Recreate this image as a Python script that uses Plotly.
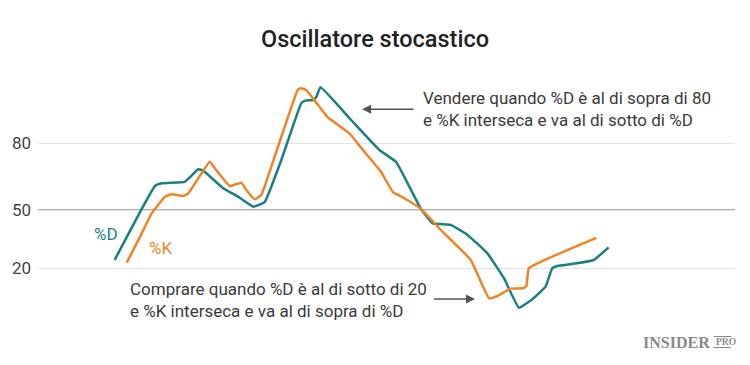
import plotly.graph_objects as go

# ---- data (x: time scale 0-100, y: oscillator value) ----
d_x = [11.0, 16.78, 17.74, 21.07, 21.65, 22.99, 23.71, 26.57, 28.71, 30.86, 32.52, 34.91,
       37.77, 38.34, 39.44, 39.91, 40.53, 44.92, 48.97, 51.36, 52.79, 54.94, 56.61, 59.23,
       61.62, 64.48, 66.85, 69.0, 70.92, 72.82, 73.78, 74.49, 77.35, 79.73, 81.87]
d_y = [27.5, 60.8, 62.0, 62.7, 64.3, 68.3, 67.7, 59.8, 56.0, 51.5, 53.5, 72.5,
       98.0, 99.2, 99.5, 100.7, 105.2, 90.5, 77.0, 71.7, 63.5, 50.5, 44.0, 43.3,
       38.8, 30.5, 19.3, 6.0, 9.8, 15.5, 23.8, 24.8, 26.0, 27.5, 33.2]

k_x = [12.73, 14.88, 16.31, 18.21, 19.17, 20.84, 21.56, 24.65, 25.36, 27.51, 29.18, 29.9,
       31.09, 32.05, 34.19, 37.3, 37.77, 38.48, 41.59, 44.68, 46.82, 49.21, 50.89, 52.55,
       54.94, 57.8, 62.09, 64.71, 65.91, 67.81, 69.71, 70.1, 70.43, 80.11]
k_y = [26.3, 39.5, 48.5, 56.0, 57.1, 56.3, 57.5, 71.7, 68.8, 60.8, 62.3, 59.0,
       54.8, 56.8, 76.2, 104.3, 104.8, 104.0, 91.7, 84.5, 76.2, 67.2, 58.2, 55.3,
       50.5, 41.0, 27.5, 10.3, 11.3, 14.6, 14.8, 16.2, 23.8, 37.5]

tick_vals = [23.75, 50, 80]
tick_text = ["20", "50", "80"]

title = "Oscillatore stocastico"
sell_text = "Vendere quando %D è al di sopra di 80<br>e %K interseca e va al di sotto di %D"
buy_text = "Comprare quando %D è al di sotto di 20<br>e %K interseca e va al di sopra di %D"

TEAL = "#1a7f80"
ORANGE = "#ef8326"
FONT = "Roboto"

W, H = 750, 365
L, R, T, B = 36, 15, 60, 35
pw, ph = W - L - R, H - T - B

fig = go.Figure()
fig.add_trace(go.Scatter(x=d_x, y=d_y, mode="lines", name="%D",
                         line=dict(color=TEAL, width=2.5, shape="spline", smoothing=0.3)))
fig.add_trace(go.Scatter(x=k_x, y=k_y, mode="lines", name="%K",
                         line=dict(color=ORANGE, width=2.5, shape="spline", smoothing=0.3)))

# middle (50) reference line, darker
fig.add_shape(type="line", xref="paper", yref="y", x0=0, x1=1, y0=50, y1=50,
              line=dict(color="#b0b0b0", width=2), layer="below")

annotations = [
    dict(text=sell_text, x=55.0, y=95.3, xref="x", yref="y", xanchor="left", yanchor="middle",
         align="left", showarrow=False, font=dict(family=FONT, size=17, color="#3a3a3a")),
    dict(text=buy_text, x=12.85, y=9.5, xref="x", yref="y", xanchor="left", yanchor="middle",
         align="left", showarrow=False, font=dict(family=FONT, size=17, color="#3a3a3a")),
    # arrows
    dict(x=46.5, y=95.3, ax=54.1, ay=95.3, xref="x", yref="y", axref="x", ayref="y",
         text="", showarrow=True, arrowhead=2, arrowsize=1.2, arrowwidth=1.5, arrowcolor="#555555"),
    dict(x=62.7, y=10.0, ax=56.6, ay=10.0, xref="x", yref="y", axref="x", ayref="y",
         text="", showarrow=True, arrowhead=2, arrowsize=1.2, arrowwidth=1.5, arrowcolor="#555555"),
    # series labels
    dict(text="%D", x=9.7, y=39.3, xref="x", yref="y", showarrow=False,
         font=dict(family=FONT, size=17, color=TEAL)),
    dict(text="%K", x=17.6, y=33.0, xref="x", yref="y", showarrow=False,
         font=dict(family=FONT, size=17, color=ORANGE)),
    # logo
    dict(text="<b>INSIDER</b>", x=712, y=342, xref="paper", yref="paper", showarrow=False,
         xanchor="right", yanchor="middle",
         font=dict(family="Liberation Serif", size=16, color="#8a8a8a")),
    dict(text="<b>PRO</b>", x=713.5, y=342, xref="paper", yref="paper", showarrow=False,
         xanchor="left", yanchor="middle",
         font=dict(family="Liberation Serif", size=9.5, color="#8a8a8a")),
]

# convert logo pixel positions to paper coords
for a in annotations:
    if a.get("xref") == "paper" and a["x"] > 1:
        a["x"] = (a["x"] - L) / pw
        a["y"] = (H - B - a["y"]) / ph

fig.update_layout(
    width=W, height=H,
    margin=dict(l=L, r=R, t=T, b=B),
    paper_bgcolor="white", plot_bgcolor="white",
    showlegend=False,
    title=dict(text=title, x=0.5, xref="container", xanchor="center", y=1 - 39 / H, yanchor="middle",
               font=dict(family=FONT, size=23.5, color="#222222", weight=500)),
    xaxis=dict(range=[0, 100], showgrid=False, zeroline=False, showticklabels=False,
               showline=False, fixedrange=True),
    yaxis=dict(range=[-4, 117.5], tickvals=tick_vals, ticktext=tick_text,
               showgrid=True, gridcolor="#e2e2e2", gridwidth=1, zeroline=False, showline=False,
               ticks="", ticklabelstandoff=6,
               tickfont=dict(family=FONT, size=17, color="#444444")),
    annotations=annotations,
)

# small rules above and below "PRO"
for yy in (336.5, 347.5):
    fig.add_shape(type="line", xref="paper", yref="paper",
                  x0=(713.5 - L) / pw, x1=(731 - L) / pw,
                  y0=(H - B - yy) / ph, y1=(H - B - yy) / ph,
                  line=dict(color="#8a8a8a", width=1))

fig.write_html("out.html")
